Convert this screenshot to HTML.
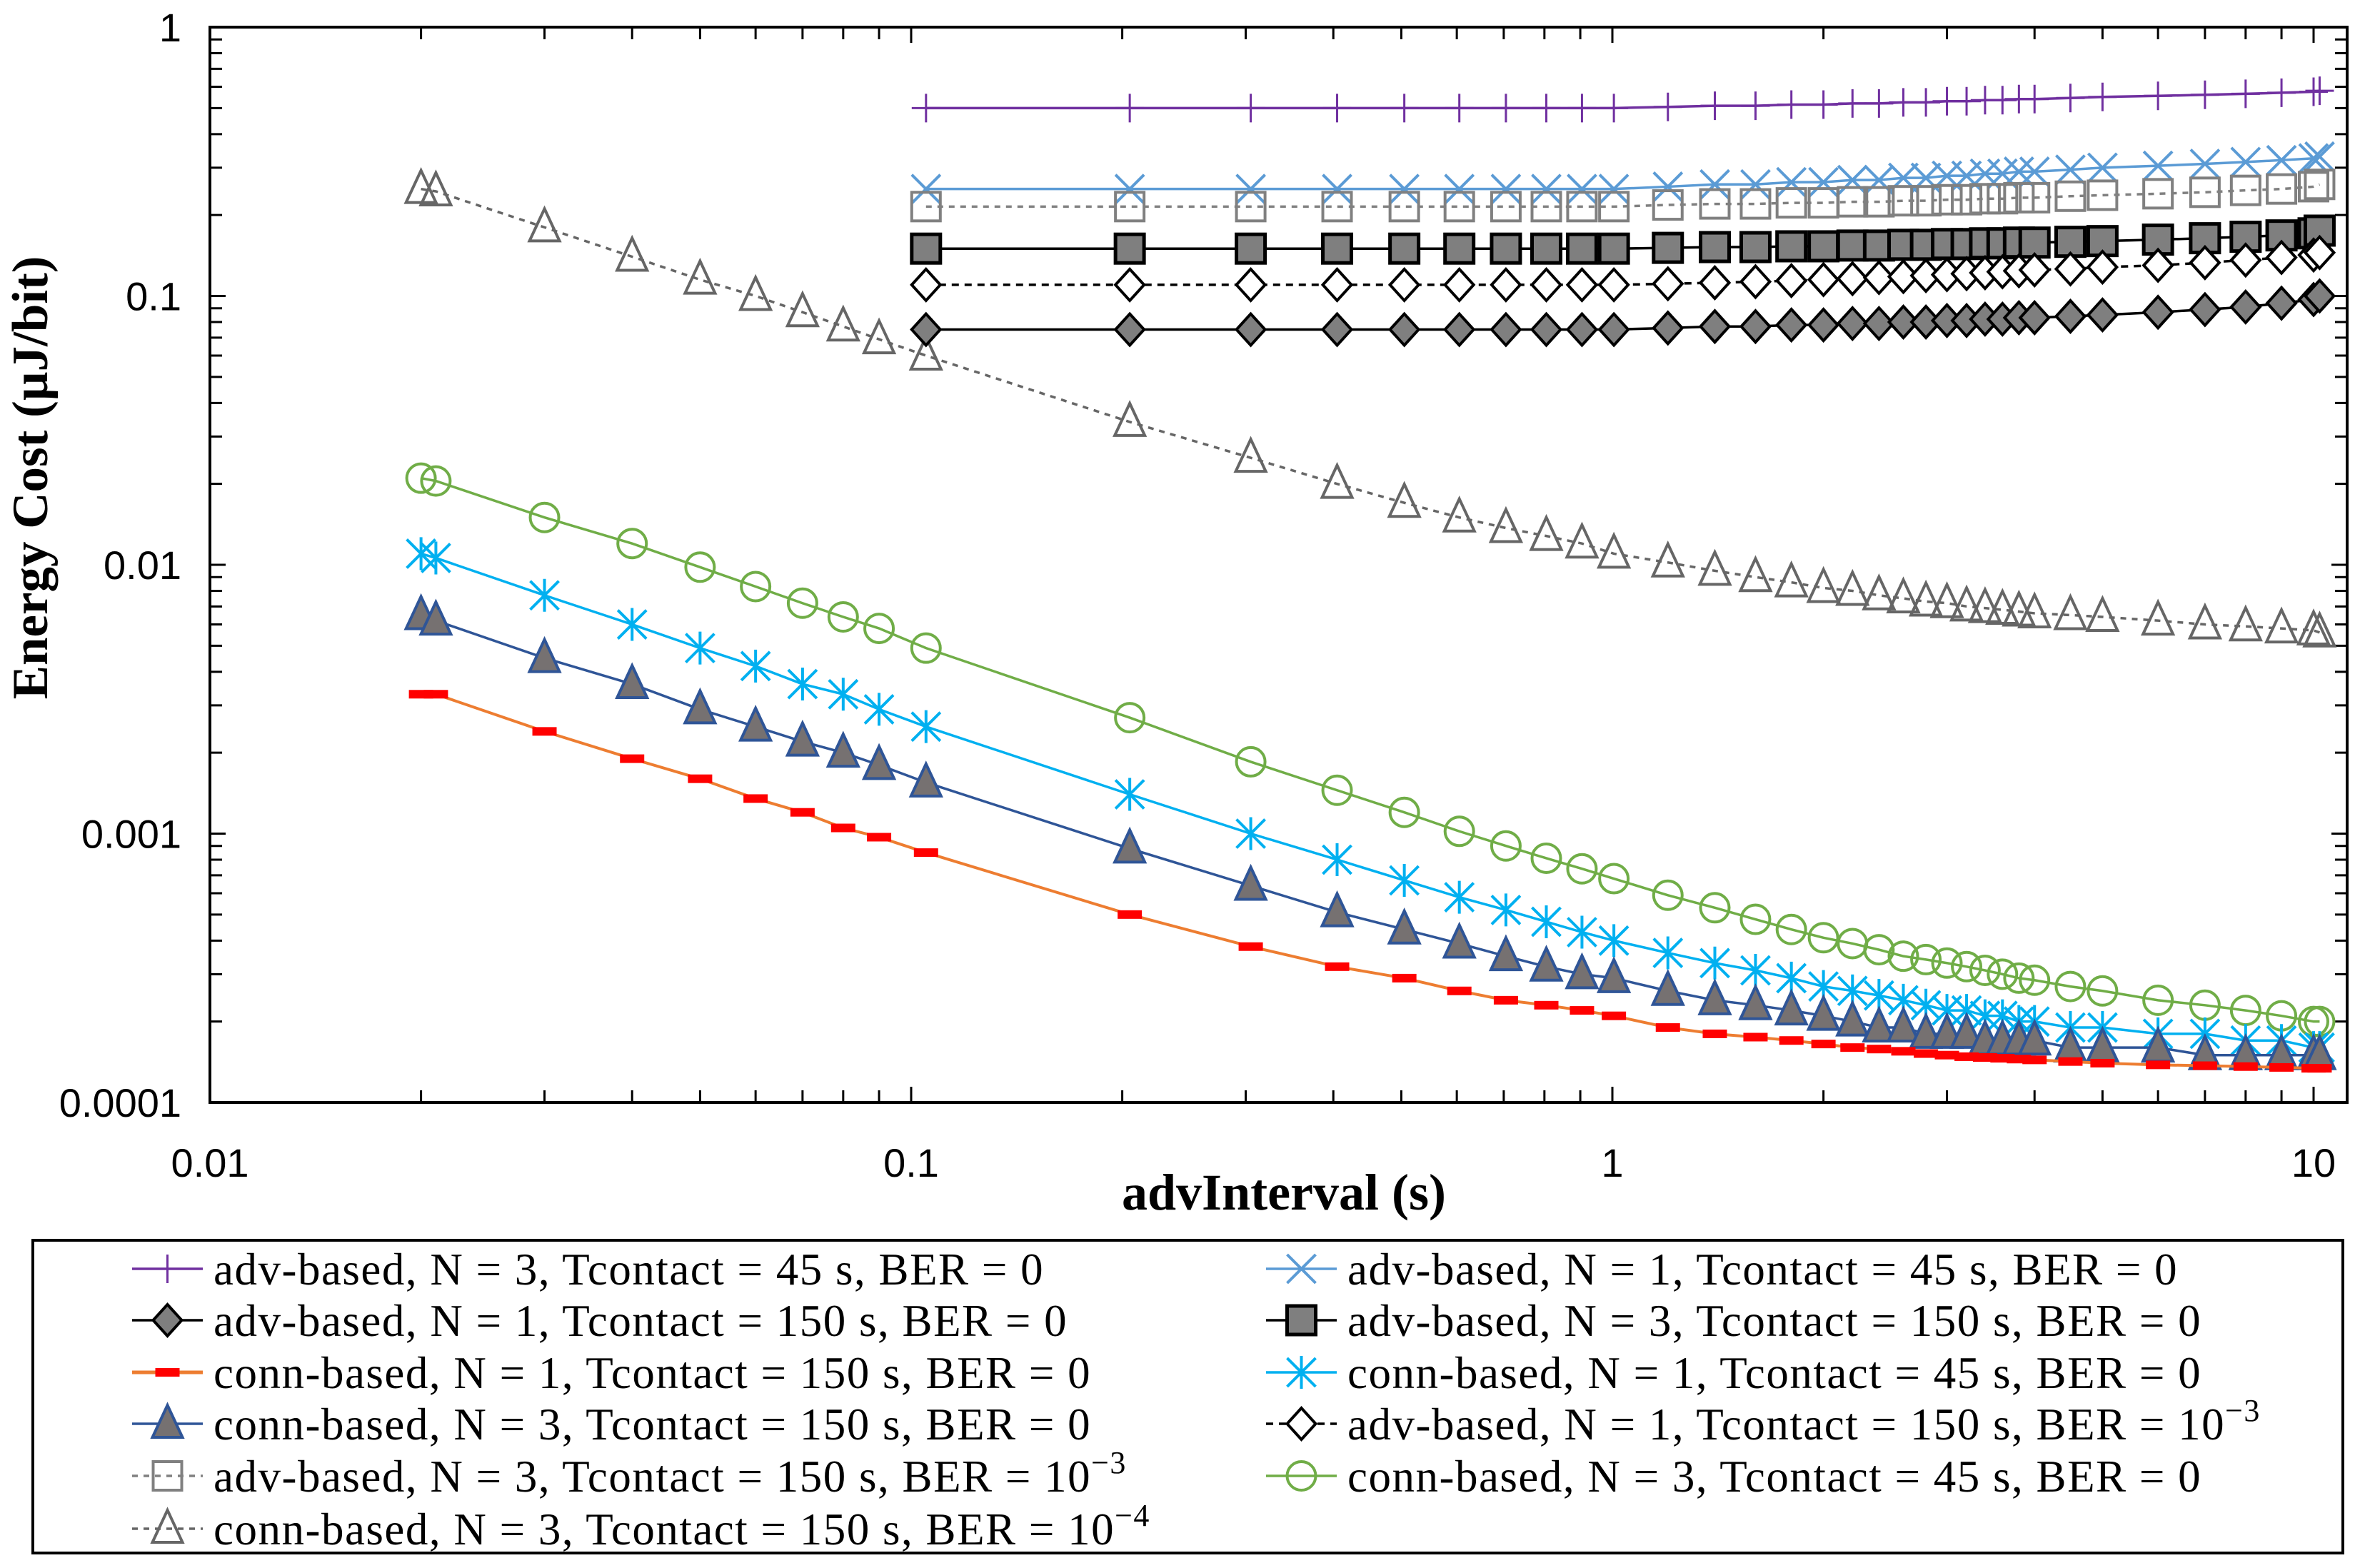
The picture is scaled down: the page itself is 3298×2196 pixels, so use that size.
<!DOCTYPE html>
<html><head><meta charset="utf-8"><style>
html,body{margin:0;padding:0;background:#fff;}
svg{display:block;}
</style></head><body>
<svg id="chart" xmlns="http://www.w3.org/2000/svg" width="3298" height="2196" viewBox="0 0 3298 2196">
<rect x="0" y="0" width="3298" height="2196" fill="#fff"/>
<g id="grid"></g>
<g id="series"></g>
<rect x="294" y="38" width="2993" height="1506" fill="none" stroke="#000" stroke-width="4"/>
<text x="1798" y="1694" font-family="Liberation Serif, serif" font-weight="bold" font-size="72" text-anchor="middle">advInterval (s)</text>
<text transform="translate(66,669) rotate(-90)" font-family="Liberation Serif, serif" font-weight="bold" font-size="71" text-anchor="middle">Energy Cost (µJ/bit)</text>
<rect x="46" y="1737" width="3235" height="438" fill="none" stroke="#000" stroke-width="4"/>
<g id="legend"></g>
</svg>
<script>
const xVals=[0.02,0.021,0.03,0.04,0.05,0.06,0.07,0.08,0.09,0.105,0.205,0.305,0.405,0.505,0.605,0.705,0.805,0.905,1.005,1.2,1.4,1.6,1.8,2.0,2.2,2.4,2.6,2.8,3.0,3.2,3.4,3.6,3.8,4.0,4.5,5,6,7,8,9,10,10.2];
const advStart=9;
const advN3T45=[0.5,0.5,0.5,0.5,0.5,0.5,0.5,0.5,0.5,0.5,0.505,0.51,0.51,0.515,0.515,0.52,0.52,0.525,0.525,0.53,0.53,0.535,0.535,0.54,0.54,0.545,0.55,0.555,0.56,0.565,0.57,0.575,0.58];
const advN1T45=[0.25,0.25,0.25,0.25,0.25,0.25,0.25,0.25,0.25,0.25,0.255,0.26,0.26,0.265,0.265,0.27,0.27,0.275,0.275,0.28,0.28,0.285,0.285,0.29,0.29,0.295,0.3,0.305,0.31,0.315,0.32,0.325,0.33];
const advN3T150B3=[0.215,0.215,0.215,0.215,0.215,0.215,0.215,0.215,0.215,0.215,0.218,0.22,0.22,0.222,0.222,0.224,0.224,0.226,0.226,0.228,0.228,0.23,0.23,0.232,0.232,0.235,0.237,0.24,0.243,0.247,0.25,0.255,0.26];
const advN3T150=[0.15,0.15,0.15,0.15,0.15,0.15,0.15,0.15,0.15,0.15,0.151,0.152,0.152,0.153,0.153,0.154,0.154,0.155,0.155,0.156,0.156,0.157,0.157,0.158,0.158,0.159,0.16,0.162,0.164,0.166,0.168,0.171,0.175];
const advN1T150B3=[0.11,0.11,0.11,0.11,0.11,0.11,0.11,0.11,0.11,0.11,0.111,0.112,0.113,0.114,0.115,0.116,0.117,0.118,0.119,0.12,0.121,0.122,0.123,0.124,0.125,0.126,0.128,0.13,0.133,0.136,0.139,0.142,0.145];
const advN1T150=[0.075,0.075,0.075,0.075,0.075,0.075,0.075,0.075,0.075,0.075,0.076,0.077,0.077,0.078,0.078,0.079,0.079,0.08,0.08,0.081,0.081,0.082,0.082,0.083,0.083,0.084,0.085,0.087,0.089,0.091,0.094,0.097,0.1];
const connN3T45=[0.021,0.0205,0.015,0.012,0.0098,0.0083,0.0072,0.0064,0.0058,0.0049,0.0027,0.00185,0.00145,0.0012,0.00102,0.0009,0.00081,0.00074,0.00068,0.00059,0.00053,0.00048,0.00044,0.00041,0.00039,0.00037,0.00035,0.00034,0.00033,0.00032,0.00031,0.0003,0.00029,0.000285,0.00027,0.00026,0.00024,0.00023,0.00022,0.00021,0.0002,0.0002];
const connN1T45=[0.011,0.0106,0.0077,0.006,0.0049,0.0042,0.0036,0.0033,0.0029,0.0025,0.0014,0.001,0.0008,0.00067,0.00058,0.00052,0.00047,0.00043,0.0004,0.00036,0.00033,0.00031,0.00029,0.00027,0.00026,0.00025,0.00024,0.00023,0.00022,0.00022,0.00021,0.00021,0.0002,0.0002,0.00019,0.00019,0.00018,0.00018,0.00017,0.00017,0.00016,0.00016];
const connN3T150=[0.0065,0.0062,0.0045,0.0036,0.0029,0.0025,0.0022,0.002,0.0018,0.00155,0.00088,0.00064,0.00051,0.00044,0.00039,0.00035,0.00032,0.0003,0.00029,0.00026,0.00024,0.00023,0.00022,0.00021,0.0002,0.00019,0.00019,0.00018,0.00018,0.00018,0.00017,0.00017,0.00017,0.00017,0.00016,0.00016,0.00016,0.00015,0.00015,0.00015,0.00015,0.00015];
const connN1T150=[0.0033,0.0033,0.0024,0.0019,0.0016,0.00135,0.0012,0.00105,0.00097,0.00085,0.0005,0.00038,0.00032,0.00029,0.00026,0.00024,0.00023,0.00022,0.00021,0.00019,0.00018,0.000175,0.00017,0.000165,0.00016,0.000158,0.000155,0.000152,0.00015,0.000148,0.000147,0.000146,0.000145,0.000144,0.000142,0.00014,0.000138,0.000137,0.000136,0.000135,0.000134,0.000134];
const connN3T150B4=[0.25,0.245,0.18,0.14,0.115,0.1,0.087,0.077,0.069,0.06,0.034,0.025,0.02,0.017,0.015,0.0137,0.0128,0.012,0.011,0.0102,0.0095,0.009,0.0086,0.0082,0.008,0.0077,0.0075,0.0073,0.0072,0.007,0.0069,0.0068,0.0067,0.0066,0.0065,0.0064,0.0062,0.006,0.0059,0.0058,0.0057,0.0056];
const xTickLabels=["0.01","0.1","1","10"];
const yTickLabels=["1","0.1","0.01","0.001","0.0001"];

const NS="http://www.w3.org/2000/svg";
const L=294,T=38,R=3287,B=1544,DX=982,DY=376.5;
function xs(v){return L+(Math.log10(v)+2)*DX;}
function ys(v){return T-Math.log10(v)*DY;}
function mk(tag,attrs,parent){const e=document.createElementNS(NS,tag);for(const k in attrs)e.setAttribute(k,attrs[k]);parent.appendChild(e);return e;}

const grid=document.getElementById('grid');
for(let d=-2;d<=1;d++){for(let m=1;m<=9;m++){const v=m*Math.pow(10,d);const x=xs(v);if(x>R)continue;const len=m==1?22:17;
const t1=mk('line',{x1:x,y1:B,x2:x,y2:B-len,stroke:'#000','stroke-width':3},grid);


const t2=mk('line',{x1:x,y1:T,x2:x,y2:T+len,stroke:'#000','stroke-width':3},grid);

}}
for(let d=-4;d<=-1;d++){for(let m=1;m<=9;m++){const v=m*Math.pow(10,d);const y=ys(v);const len=m==1?22:17;
const t1=mk('line',{x1:L,y1:y,x2:L+len,y2:y,stroke:'#000','stroke-width':3},grid);


const t2=mk('line',{x1:R,y1:y,x2:R-len,y2:y,stroke:'#000','stroke-width':3},grid);

}}
xTickLabels.forEach((s)=>{const t=mk('text',{x:xs(parseFloat(s)),y:1648,'font-family':'Liberation Sans, sans-serif','font-size':56,'text-anchor':'middle'},grid);t.textContent=s;

});
yTickLabels.forEach((s)=>{const t=mk('text',{x:254,y:ys(parseFloat(s))+20,'font-family':'Liberation Sans, sans-serif','font-size':56,'text-anchor':'end'},grid);t.textContent=s;

});

function marker(g,type,x,y,st){
 const s=20;let e;
 if(type==='plus'){e=mk('path',{d:`M${x-s} ${y}H${x+s}M${x} ${y-s}V${y+s}`,stroke:st.c,'stroke-width':3,fill:'none'},g);}
 else if(type==='x'){e=mk('path',{d:`M${x-s} ${y-s}L${x+s} ${y+s}M${x+s} ${y-s}L${x-s} ${y+s}`,stroke:st.c,'stroke-width':4,fill:'none'},g);}
 else if(type==='star'){e=mk('path',{d:`M${x-s} ${y-s}L${x+s} ${y+s}M${x+s} ${y-s}L${x-s} ${y+s}M${x} ${y-s-3}V${y+s+3}`,stroke:st.c,'stroke-width':4,fill:'none'},g);}
 else if(type==='square'){e=mk('rect',{x:x-s,y:y-s,width:2*s,height:2*s,fill:st.f,stroke:st.c,'stroke-width':st.w||4},g);}
 else if(type==='diamond'){e=mk('path',{d:`M${x} ${y-s-2}L${x+s} ${y}L${x} ${y+s+2}L${x-s} ${y}Z`,fill:st.f,stroke:st.c,'stroke-width':4},g);}
 else if(type==='tri'){e=mk('path',{d:`M${x} ${y-s-6}L${x+s+1} ${y+s-1}L${x-s-1} ${y+s-1}Z`,fill:st.f,stroke:st.c,'stroke-width':4},g);}
 else if(type==='circle'){e=mk('circle',{cx:x,cy:y,r:s,fill:'none',stroke:st.c,'stroke-width':4},g);}
 else if(type==='dash'){e=mk('rect',{x:x-17,y:y-6,width:34,height:12,fill:st.f},g);}
 
 
}

const seriesDefs=[
 {name:'adv-n3-t45',vals:advN3T45,start:advStart,line:'#7030A0',dash:null,m:'plus',st:{c:'#7030A0'},label:'adv-based, N = 3, Tcontact = 45 s, BER = 0'},
 {name:'adv-n1-t150',vals:advN1T150,start:advStart,line:'#000',dash:null,m:'diamond',st:{c:'#000',f:'#7f7f7f'},label:'adv-based, N = 1, Tcontact = 150 s, BER = 0'},
 {name:'conn-n1-t150',vals:connN1T150,start:0,line:'#ED7D31',dash:null,m:'dash',st:{f:'#FF0000'},label:'conn-based, N = 1, Tcontact = 150 s, BER = 0'},
 {name:'conn-n3-t150',vals:connN3T150,start:0,line:'#2F5597',dash:null,m:'tri',st:{c:'#2F5597',f:'#767171'},label:'conn-based, N = 3, Tcontact = 150 s, BER = 0'},
 {name:'adv-n3-t150-ber3',vals:advN3T150B3,start:advStart,line:'#808080',dash:'8 8',m:'square',st:{c:'#808080',f:'none',w:4},label:'adv-based, N = 3,  Tcontact =  150 s, BER = 10',sup:'−3'},
 {name:'conn-n3-t150-ber4',vals:connN3T150B4,start:0,line:'#666',dash:'8 8',m:'tri',st:{c:'#666',f:'none'},label:'conn-based, N = 3, Tcontact = 150 s, BER = 10',sup:'−4'},
 {name:'adv-n1-t45',vals:advN1T45,start:advStart,line:'#5B9BD5',dash:null,m:'x',st:{c:'#5B9BD5'},label:'adv-based, N = 1, Tcontact = 45 s, BER = 0'},
 {name:'adv-n3-t150',vals:advN3T150,start:advStart,line:'#000',dash:null,m:'square',st:{c:'#000',f:'#7f7f7f',w:5},label:'adv-based, N = 3, Tcontact = 150 s, BER = 0'},
 {name:'conn-n1-t45',vals:connN1T45,start:0,line:'#00B0F0',dash:null,m:'star',st:{c:'#00B0F0'},label:'conn-based, N = 1, Tcontact = 45 s, BER = 0'},
 {name:'adv-n1-t150-ber3',vals:advN1T150B3,start:advStart,line:'#000',dash:'10 8',m:'diamond',st:{c:'#000',f:'#fff'},label:'adv-based, N = 1,  Tcontact =  150 s, BER = 10',sup:'−3'},
 {name:'conn-n3-t45',vals:connN3T45,start:0,line:'#70AD47',dash:null,m:'circle',st:{c:'#70AD47'},label:'conn-based, N = 3, Tcontact = 45 s, BER = 0'}
];
const sl=document.getElementById('series');
const order=[5,0,6,4,7,9,1,10,8,3,2];
order.forEach(i=>{const s=seriesDefs[i];
 const g=mk('g',{},sl);
 
 
 const pts=s.vals.map((v,k)=>[xs(xVals[s.start+k]),ys(v)]);
 const p=mk('polyline',{points:pts.map(q=>q.join(',')).join(' '),fill:'none',stroke:s.line,'stroke-width':s.m==='dash'?4:3.5},g);
 if(s.dash)p.setAttribute('stroke-dasharray',s.dash);
 
 
 pts.forEach(q=>marker(g,s.m,q[0],q[1],s.st));
});
const lg=document.getElementById('legend');
const rows=[1777,1849,1922,1994,2067,2141];
seriesDefs.forEach((s,i)=>{const col=i<6?0:1;const r=col?i-6:i;
 const x0=col?1773:185,x1=col?1872:284,tx=col?1887:299,y=rows[r];
 const g=mk('g',{},lg);
 
 
 const l=mk('line',{x1:x0,y1:y,x2:x1,y2:y,stroke:s.line,'stroke-width':s.m==='dash'?5:3.5},g);
 if(s.dash)l.setAttribute('stroke-dasharray',s.dash);
 
 
 marker(g,s.m,(x0+x1)/2,y,s.st);
 const t=mk('text',{x:tx,y:y+22,'font-family':'Liberation Serif, serif','font-size':63,'letter-spacing':'1.5'},g);
 t.textContent=s.label;
 if(s.sup){const ts=mk('tspan',{dy:-26,'font-size':44},t);ts.textContent=s.sup;}
 
 
});
</script>
</body></html>
